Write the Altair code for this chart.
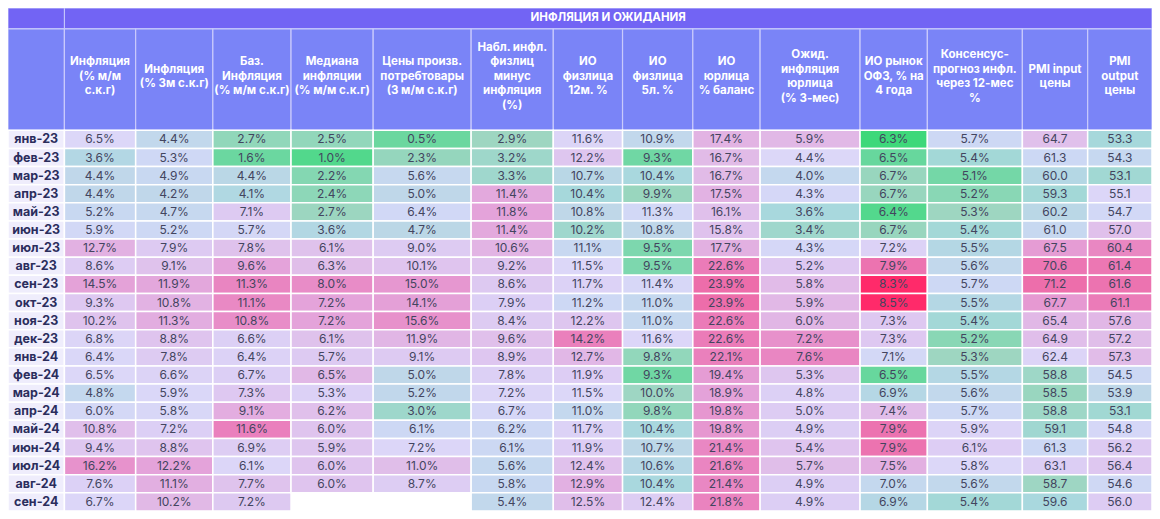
import altair as alt
import pandas as pd

# ---------------- data ----------------
MONTHS = ["янв-23", "фев-23", "мар-23", "апр-23", "май-23", "июн-23", "июл-23",
          "авг-23", "сен-23", "окт-23", "ноя-23", "дек-23", "янв-24", "фев-24",
          "мар-24", "апр-24", "май-24", "июн-24", "июл-24", "авг-24", "сен-24"]

TITLE = "ИНФЛЯЦИЯ И ОЖИДАНИЯ"

HEADERS = [
    ["Инфляция", "(% м/м", "с.к.г)"],
    ["Инфляция", "(% 3м с.к.г)"],
    ["Баз.", "Инфляция", "(% м/м с.к.г)"],
    ["Медиана", "инфляции", "(% м/м с.к.г)"],
    ["Цены произв.", "потребтовары", "(3 м/м с.к.г)"],
    ["Набл. инфл.", "физлиц", "минус", "инфляция", "(%)"],
    ["ИО", "физлица", "12м. %"],
    ["ИО", "физлица", "5л. %"],
    ["ИО", "юрлица", "% баланс"],
    ["Ожид.", "инфляция", "юрлица", "(% 3-мес)"],
    ["ИО рынок", "ОФЗ, % на", "4 года"],
    ["Консенсус-", "прогноз инфл.", "через 12-мес", "%"],
    ["PMI input", "цены"],
    ["PMI", "output", "цены"],
]

infl_mm = [6.5, 3.6, 4.4, 4.4, 5.2, 5.9, 12.7, 8.6, 14.5, 9.3, 10.2, 6.8, 6.4, 6.5, 4.8, 6.0, 10.8, 9.4, 16.2, 7.6, 6.7]
infl_3m = [4.4, 5.3, 4.9, 4.2, 4.7, 5.2, 7.9, 9.1, 11.9, 10.8, 11.3, 8.8, 7.8, 6.6, 5.9, 5.8, 7.2, 8.8, 12.2, 11.1, 10.2]
core = [2.7, 1.6, 4.4, 4.1, 7.1, 5.7, 7.8, 9.6, 11.3, 11.1, 10.8, 6.6, 6.4, 6.7, 7.3, 9.1, 11.6, 6.9, 6.1, 7.7, 7.2]
median = [2.5, 1.0, 2.2, 2.4, 2.7, 3.6, 6.1, 6.3, 8.0, 7.2, 7.2, 6.1, 5.7, 6.5, 5.3, 6.2, 6.0, 5.9, 6.0, 6.0, None]
ppi_cons = [0.5, 2.3, 5.6, 5.0, 6.4, 4.7, 9.0, 10.1, 15.0, 14.1, 15.6, 11.9, 9.1, 5.0, 5.2, 3.0, 6.1, 7.2, 11.0, 8.7, None]
obs_minus = [2.9, 3.2, 3.3, 11.4, 11.8, 11.4, 10.6, 9.2, 8.6, 7.9, 8.4, 9.6, 8.9, 7.8, 7.2, 6.7, 6.2, 6.1, 5.6, 5.8, 5.4]
io_12m = [11.6, 12.2, 10.7, 10.4, 10.8, 10.2, 11.1, 11.5, 11.7, 11.2, 12.2, 14.2, 12.7, 11.9, 11.5, 11.0, 11.7, 11.9, 12.4, 12.9, 12.5]
io_5y = [10.9, 9.3, 10.4, 9.9, 11.3, 10.8, 9.5, 9.5, 11.4, 11.0, 11.0, 11.6, 9.8, 9.3, 10.0, 9.8, 10.4, 10.7, 10.6, 10.4, 12.4]
io_corp = [17.4, 16.7, 16.7, 17.5, 16.1, 15.8, 17.7, 22.6, 23.9, 23.9, 22.6, 22.6, 22.1, 19.4, 18.9, 19.8, 19.8, 21.4, 21.6, 21.4, 21.8]
exp_corp = [5.9, 4.4, 4.0, 4.3, 3.6, 3.4, 4.3, 5.2, 5.8, 5.9, 6.0, 7.2, 7.6, 5.3, 4.8, 5.0, 4.9, 5.4, 5.7, 4.9, 4.9]
ofz = [6.3, 6.5, 6.7, 6.7, 6.4, 6.7, 7.2, 7.9, 8.3, 8.5, 7.3, 7.3, 7.1, 6.5, 6.9, 7.4, 7.9, 7.9, 7.5, 7.0, 6.9]
consensus = [5.7, 5.4, 5.1, 5.2, 5.3, 5.4, 5.5, 5.6, 5.7, 5.5, 5.4, 5.2, 5.3, 5.5, 5.6, 5.7, 5.9, 6.1, 5.8, 5.6, 5.4]
pmi_in = [64.7, 61.3, 60.0, 59.3, 60.2, 61.0, 67.5, 70.6, 71.2, 67.7, 65.4, 64.9, 62.4, 58.8, 58.5, 58.8, 59.1, 61.3, 63.1, 58.7, 59.6]
pmi_out = [53.3, 54.3, 53.1, 55.1, 54.7, 57.0, 60.4, 61.4, 61.6, 61.1, 57.6, 57.2, 57.3, 54.5, 53.9, 53.1, 54.8, 56.2, 56.4, 54.6, 56.0]

SERIES = [infl_mm, infl_3m, core, median, ppi_cons, obs_minus, io_12m, io_5y,
          io_corp, exp_corp, ofz, consensus, pmi_in, pmi_out]
PERCENT = [True] * 12 + [False, False]

# ---------------- style / layout ----------------
# colour anchors per column: (full green, neutral, full pink)
ANCHORS = [(-3, 6.5, 26), (-2, 6.0, 21.5), (0.1, 6.0, 15), (0.5, 5.0, 10.5),
           (-1.7, 7.0, 24), (-1.2, 7.0, 19), (8.6, 11.5, 15.8), (8.45, 11.5, 20.5),
           (0, 12.9, 27.6), (2.2, 4.4, 9.9), (6.3, 7.15, 8.2), (4.8, 5.8, 9),
           (55.3, 62.0, 74.4), (50.5, 55.0, 64.3)]
RAMP_DOMAIN = [-1, -0.75, -0.5, -0.25, 0, 0.25, 0.5, 0.75, 1]
RAMP_RANGE = ["#3ed87a", "#6ad79f", "#9ed6c1", "#bed7e7", "#dcd7f8",
              "#e1bce8", "#e792cc", "#ed6daa", "#ff2a6a"]

W_PX, H_PX = 1144, 503
LABEL_W = 57
COL_W = [72, 78, 79, 83, 99, 83, 70, 71, 68, 101, 68, 96, 66, 65]
TITLE_H = 1.15
HEAD_H = 5.6
HEAD_LINE_PX = 14.5
FONT = "Inter"

edges = [LABEL_W]
for w in COL_W:
    edges.append(edges[-1] + w)
TOTAL_W = edges[-1]
N = len(MONTHS)
UNIT_PX = H_PX / (N + HEAD_H + TITLE_H)
LINE_U = HEAD_LINE_PX / UNIT_PX


def norm(v, a):
    lo, mid, hi = a
    if v >= mid:
        t = (v - mid) / (hi - mid)
    else:
        t = (v - mid) / (mid - lo)
    return max(-1.0, min(1.0, t))


cells = []
for j, ser in enumerate(SERIES):
    for i, v in enumerate(ser):
        if v is None:
            continue
        cells.append(dict(x0=edges[j], x1=edges[j + 1], xc=(edges[j] + edges[j + 1]) / 2,
                          y0=i, y1=i + 1, yc=i + 0.5, t=norm(v, ANCHORS[j]),
                          label=f"{v:.1f}%" if PERCENT[j] else f"{v:.1f}"))
cells = pd.DataFrame(cells)

labels = pd.DataFrame(dict(x0=0, x1=LABEL_W, xc=LABEL_W / 2,
                           y0=list(range(N)), y1=[i + 1 for i in range(N)],
                           yc=[i + 0.5 for i in range(N)], label=MONTHS))

heads = pd.DataFrame(dict(x0=[0] + edges[:-1], x1=edges,
                          xc=[LABEL_W / 2] + [(edges[j] + edges[j + 1]) / 2 for j in range(len(COL_W))],
                          y0=-HEAD_H, y1=0,
                          yc=[-HEAD_H / 2] + [-HEAD_H / 2 - 0.15 - (len(h) - 1) / 2 * LINE_U for h in HEADERS],
                          label=[""] + ["\n".join(h) for h in HEADERS]))

titles = pd.DataFrame(dict(x0=[0, LABEL_W], x1=[LABEL_W, TOTAL_W],
                           xc=[LABEL_W / 2, (LABEL_W + TOTAL_W) / 2],
                           y0=-HEAD_H - TITLE_H, y1=-HEAD_H, yc=-HEAD_H - TITLE_H / 2,
                           label=["", TITLE]))

xs = alt.Scale(domain=[0, TOTAL_W], nice=False, zero=False)
ys = alt.Scale(domain=[-HEAD_H - TITLE_H, N], nice=False, zero=False, reverse=True)


def rects(df, **kw):
    return alt.Chart(df).mark_rect(**kw).encode(
        x=alt.X("x0:Q", scale=xs, axis=None), x2="x1:Q",
        y=alt.Y("y0:Q", scale=ys, axis=None), y2="y1:Q")


def texts(df, **kw):
    return alt.Chart(df).mark_text(**kw).encode(
        x=alt.X("xc:Q", scale=xs, axis=None),
        y=alt.Y("yc:Q", scale=ys, axis=None),
        text="label:N")


title_rect = rects(titles, color="#7264f4", stroke="#c9cafc", strokeWidth=1)
head_rect = rects(heads, color="#7a84f7", stroke="#c9cafc", strokeWidth=1.2)
title_text = texts(titles, font=FONT, fontSize=11.5, fontWeight="bold", color="white", baseline="middle")
head_text = texts(heads, font=FONT, fontSize=11.5, fontWeight="bold", color="white",
                  baseline="middle", lineBreak="\n", lineHeight=HEAD_LINE_PX)
label_rect = rects(labels, color="#efedfc", stroke="white", strokeWidth=1.5)
label_text = texts(labels, font=FONT, fontSize=12.5, fontWeight="bold", color="#2b2d5c", baseline="middle")
cell_rect = alt.Chart(cells).mark_rect(stroke="white", strokeWidth=1.5).encode(
    x=alt.X("x0:Q", scale=xs, axis=None), x2="x1:Q",
    y=alt.Y("y0:Q", scale=ys, axis=None), y2="y1:Q",
    color=alt.Color("t:Q", scale=alt.Scale(domain=RAMP_DOMAIN, range=RAMP_RANGE), legend=None))
cell_text = texts(cells, font=FONT, fontSize=12, fontWeight=400, color="#43455f", baseline="middle")

chart = alt.layer(title_rect, head_rect, title_text, head_text, label_rect, label_text,
                  cell_rect, cell_text).properties(
    width=W_PX, height=H_PX, padding=0, autosize="none"
).configure_view(strokeWidth=0)

chart.save("out.html", embed_options={"renderer": "svg", "actions": False})
